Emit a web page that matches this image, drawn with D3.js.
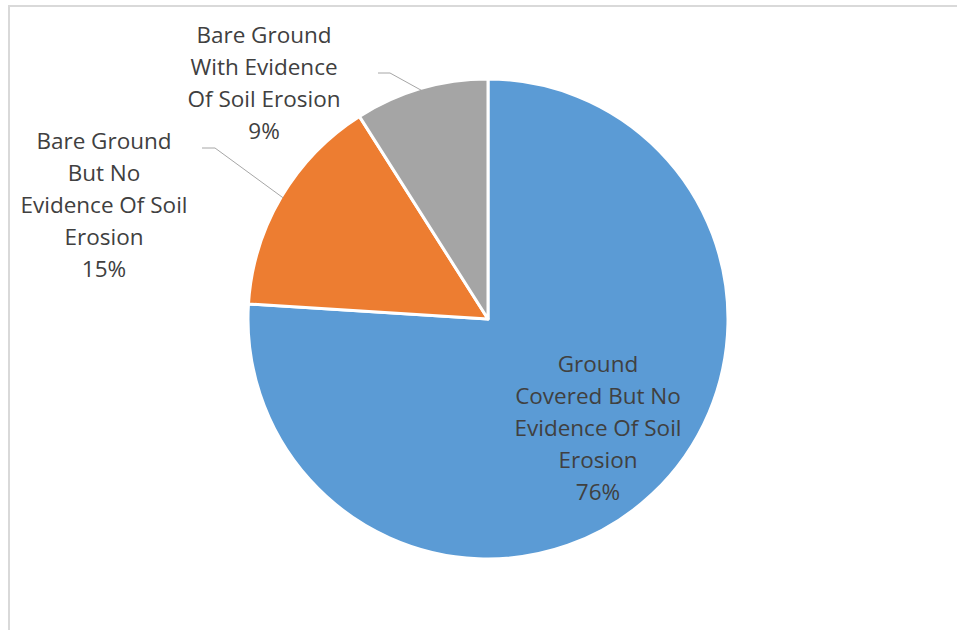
<!DOCTYPE html>
<html>
<head>
<meta charset="utf-8">
<script src="https://cdn.jsdelivr.net/npm/d3@7/dist/d3.min.js"></script>
<style>
  html, body { margin: 0; padding: 0; background: #fff; }
  svg { display: block; }
</style>
</head>
<body>
<svg id="chart" width="957" height="630"></svg>
<script>
// Ground condition shares, drawn clockwise from 12 o'clock
const categories = [
  ["Ground", "Covered But No", "Evidence Of Soil", "Erosion"],
  ["Bare Ground", "But No", "Evidence Of Soil", "Erosion"],
  ["Bare Ground", "With Evidence", "Of Soil Erosion"]
];
const values = [76, 15, 9];
const colors = ["#5B9BD5", "#ED7D31", "#A5A5A5"];

const svg = d3.select("#chart");
const cx = 488, cy = 319, radius = 240;

// chart frame
svg.append("rect")
  .attr("x", 9).attr("y", 6)
  .attr("width", 980).attr("height", 660)
  .attr("fill", "none")
  .attr("stroke", "#d9d9d9")
  .attr("stroke-width", 2);

const pie = d3.pie().sort(null).value(d => d.value);
const arcs = pie(values.map((v, i) => ({ value: v, i })));
const arc = d3.arc().innerRadius(0).outerRadius(radius);

const g = svg.append("g").attr("transform", `translate(${cx},${cy})`);

g.selectAll("path.slice")
  .data(arcs)
  .join("path")
  .attr("class", "slice")
  .attr("d", arc)
  .attr("fill", d => colors[d.data.i])
  .attr("stroke", "#fff")
  .attr("stroke-width", 3)
  .attr("stroke-linejoin", "round");

// label anchors (centre x, first line y) and leader lines
const labelPos = [
  { x: 598, y: 363, leader: null },
  { x: 104, y: 140, leader: [[202, 148], [215, 148]] },
  { x: 264, y: 34, leader: [[378, 73], [390, 73]] }
];
const lineH = 32.2;

arcs.forEach((d, k) => {
  const p = labelPos[k];
  const lines = categories[d.data.i].concat([d.data.value + "%"]);
  const t = svg.append("text")
    .attr("text-anchor", "middle")
    .attr("font-family", "'Open Sans', sans-serif")
    .attr("font-size", 22.5)
    .attr("fill", "#404040");
  lines.forEach((s, j) => {
    t.append("tspan")
      .attr("x", p.x)
      .attr("y", p.y + j * lineH)
      .attr("dominant-baseline", "central")
      .text(s);
  });
  if (p.leader) {
    // leader ends just inside the slice's outer edge at its mid angle
    const a = (d.startAngle + d.endAngle) / 2;
    const end = [cx + Math.sin(a) * (radius - 2), cy - Math.cos(a) * (radius - 2)];
    svg.append("polyline")
      .attr("points", p.leader.concat([end]).map(q => q.join(",")).join(" "))
      .attr("fill", "none")
      .attr("stroke", "#a6a6a6")
      .attr("stroke-width", 1);
  }
});
</script>
</body>
</html>
